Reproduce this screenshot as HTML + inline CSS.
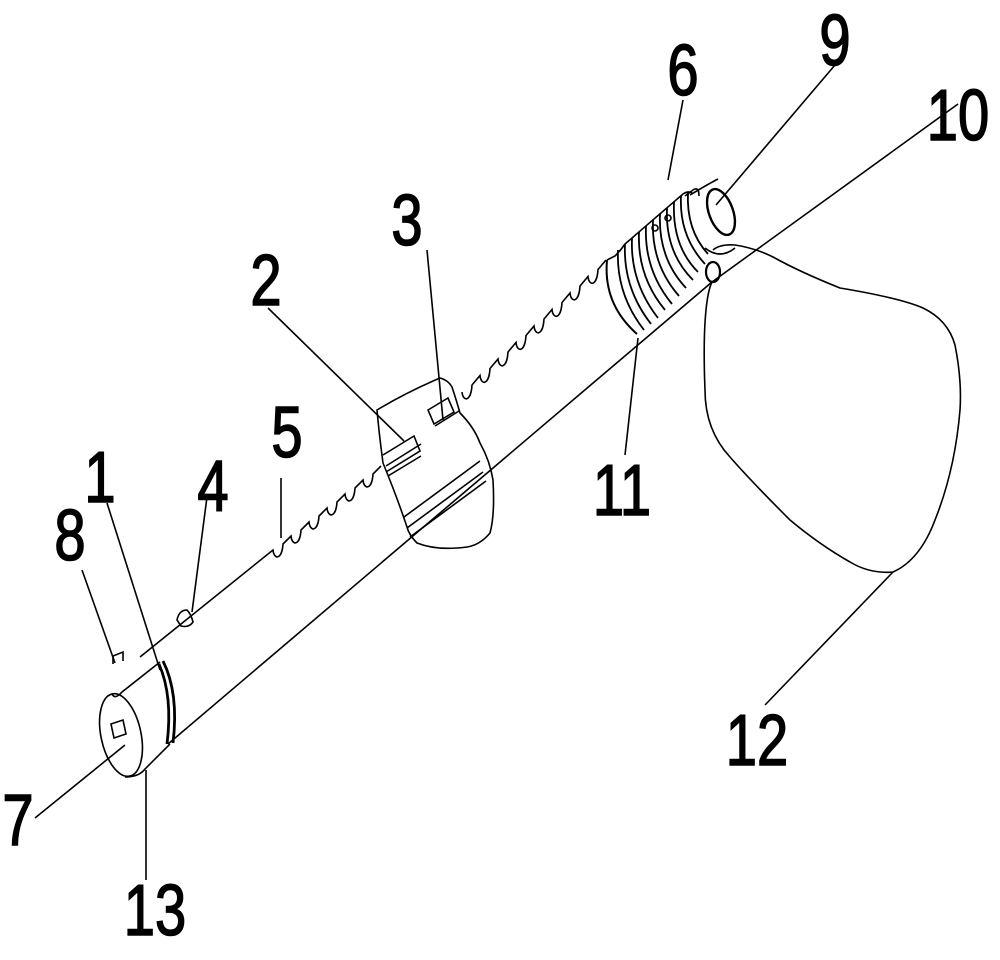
<!DOCTYPE html>
<html><head><style>html,body{margin:0;padding:0;background:#fff;}svg{display:block}text{font-family:"Liberation Sans",Arial,sans-serif;font-size:72px;fill:#000;stroke:#000;stroke-width:1.6;}</style></head>
<body>
<svg width="1000" height="960" viewBox="0 0 1000 960" xmlns="http://www.w3.org/2000/svg">
<g fill="none" stroke="#000" stroke-width="1.6">
<path d="M168,744 L712,282"/>
<path d="M140,657 L273,550 c1,10 9,10 10,-6 l8,-8 c1,10 9,10 10,-6 l8,-8 c1,10 9,10 10,-6 l8,-8 c1,10 9,10 10,-6 l8,-8 c1,10 9,10 10,-6 l8,-8 c1,10 9,10 10,-6 l8,-8"/>
<path d="M462,392 c1,10 9,10 10,-7 l8,-9.5 c1,10 9,10 10,-7 l8,-9.5 c1,10 9,10 10,-7 l8,-9.5 c1,10 9,10 10,-7 l8,-9.5 c1,10 9,10 10,-7 l8,-9.5 c1,10 9,10 10,-7 l8,-9.5 c1,10 9,10 10,-7 l8,-9.5 c1,10 9,10 10,-7 l8,-9.5"/>
<ellipse cx="121" cy="735" rx="20" ry="42" transform="rotate(-12 121 735)"/>
<path d="M112,694 q3,6 10,-2 L160,662"/>
<path d="M125,777 q14,0 20,-8 L170,744"/>
<path d="M159,664 q14,32 8,80 M163,661 q16,32 10,82" stroke-width="2.8"/>
<path d="M111,724 l12,-4 l3,14 l-12,4 z"/>
<path d="M113,664 l0,-8 l10,-4 l0,9"/>
<path d="M177,620 q2,-10 10,-10 q4,4 6,12 q-4,6 -12,4 z"/>
<path d="M377,410 q30,-18 63,-32 q8,2 12,9 q4,12 8,26 q14,14 20,30 q10,18 13,37 q2,35 -3,53 q-10,12 -23,14 q-30,4 -50,-4 q-8,-8 -10,-16 q-10,-30 -24,-64 q-4,-30 -6,-53 z"/>
<path d="M383,455 l31,-19 l6,15 l-34,21 M386,466 l35,-22 M388,476 l33,-20"/>
<path d="M428,410 l20,-12 l6,14 l-20,12 z M435,426 l24,-15"/>
<path d="M404,517 l76,-56 M407,528 l76,-56 M410,537 l76,-56"/>
<path d="M607,260 q-4,44 30,74" stroke-width="2"/>
<g stroke-width="1.8">
<path d="M618,250 q-2,44 26,80"/><path d="M625,244 q-2,44 26,80"/><path d="M632,238 q-2,44 26,80"/><path d="M639,232 q-2,44 26,78"/><path d="M646,226 q-2,44 26,78"/><path d="M653,220 q-2,44 26,76"/><path d="M660,214 q-2,44 26,74"/><path d="M667,208 q-2,44 26,72"/><path d="M674,202 q-2,44 24,70"/><path d="M681,196 q-2,40 24,68"/><path d="M688,192 q-2,38 20,62"/>
</g>
<path d="M607,260 l8,-4 q6,-6 10,-12 l58,-50 q6,-4 10,0"/>
<circle cx="655" cy="228" r="3"/><circle cx="668" cy="218" r="3"/>
<path d="M685,196 l8,-6 q6,-4 6,6"/>
<path d="M690,195 q20,-12 28,-16 M705,248 q15,12 30,0"/>
<ellipse cx="721" cy="212" rx="12" ry="24" transform="rotate(-20 721 212)" stroke-width="2.4"/>
<ellipse cx="713" cy="272" rx="7" ry="10" stroke-width="2.2"/>
<path d="M713,250 Q720,244 735,245 Q755,248 773,257 Q800,272 840,288 Q900,298 923,308 Q948,320 955,345 Q962,380 960,410 Q955,470 935,520 Q920,560 893,572 Q870,574 850,562 Q820,545 790,520 Q750,480 730,457 Q705,430 705,390 Q703,340 706,310 Q708,290 712,282"/>
<path d="M35,818 L125,745"/>
<path d="M712,282 L958,104"/>
<path d="M683,100 L668,180"/>
<path d="M835,65 L716,205"/>
<path d="M427,250 L443,420"/>
<path d="M268,308 L404,441"/>
<path d="M281,478 L281,538"/>
<path d="M107,503 L160,670"/>
<path d="M207,497 L192,612"/>
<path d="M82,570 L115,663"/>
<path d="M625,455 L638,338"/>
<path d="M765,705 L893,572"/>
<path d="M146,880 L146,770"/>
</g>
<g text-anchor="middle">
<text transform="translate(683,95) scale(0.78,1)">6</text>
<text transform="translate(835,65) scale(0.78,1)">9</text>
<text transform="translate(958,140) scale(0.78,1)">10</text>
<text transform="translate(407,245) scale(0.78,1)">3</text>
<text transform="translate(266,305) scale(0.78,1)">2</text>
<text transform="translate(287,457) scale(0.78,1)">5</text>
<text transform="translate(100,502) scale(0.78,1)">1</text>
<text transform="translate(213,511) scale(0.78,1)">4</text>
<text transform="translate(70,560) scale(0.78,1)">8</text>
<text transform="translate(622,515) scale(0.78,1)">11</text>
<text transform="translate(757,765) scale(0.78,1)">12</text>
<text transform="translate(18,845) scale(0.78,1)">7</text>
<text transform="translate(155,935) scale(0.78,1)">13</text>
</g>
</svg>
</body></html>
